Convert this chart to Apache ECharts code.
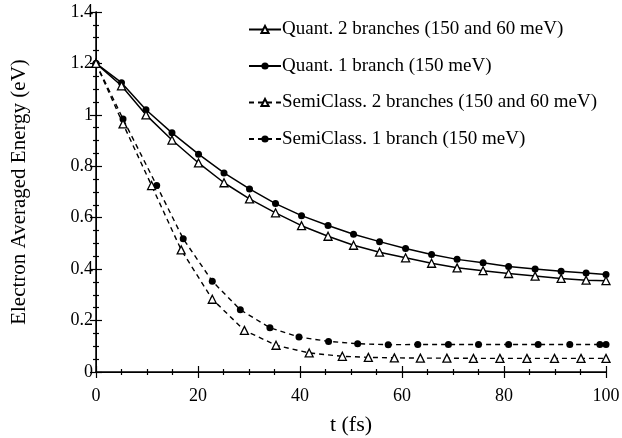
<!DOCTYPE html>
<html>
<head>
<meta charset="utf-8">
<script src="https://cdn.jsdelivr.net/npm/echarts@6/dist/echarts.min.js"></script>
<style>
  * { margin: 0; padding: 0; }
  body { background: #fff; }
  #chart { width: 622px; height: 438px; }
</style>
</head>
<body>
<div id="chart"></div>
<script>
// t (fs) and energy (eV)
var quant2T = [0, 5, 9.8, 14.9, 20.1, 25.1, 30.1, 35.2, 40.3, 45.5, 50.5, 55.6, 60.7, 65.8, 70.8, 75.9, 80.9, 86.1, 91.2, 96.1, 100];
var quant2E = [1.2, 1.113, 1.0, 0.902, 0.813, 0.736, 0.673, 0.619, 0.569, 0.528, 0.493, 0.466, 0.444, 0.423, 0.405, 0.394, 0.383, 0.373, 0.364, 0.357, 0.355];

var quant1T = quant2T;
var quant1E = [1.2, 1.125, 1.02, 0.93, 0.847, 0.774, 0.712, 0.655, 0.608, 0.57, 0.536, 0.507, 0.48, 0.457, 0.438, 0.425, 0.41, 0.401, 0.392, 0.385, 0.379];

var semi2T = [0, 5.3, 10.9, 16.7, 22.8, 29.1, 35.3, 41.8, 48.3, 53.4, 58.5, 63.6, 68.8, 74, 79.2, 84.5, 89.9, 95.1, 100];
var semi2E = [1.2, 0.965, 0.725, 0.475, 0.283, 0.162, 0.104, 0.074, 0.061, 0.057, 0.055, 0.054, 0.054, 0.053, 0.053, 0.053, 0.053, 0.053, 0.053];

var semi1T = [0, 5.3, 11.9, 17.1, 22.8, 28.3, 34.1, 39.8, 45.6, 51.3, 57.3, 63.1, 69.1, 75, 80.9, 86.7, 92.9, 98.8, 100];
var semi1E = [1.2, 0.984, 0.725, 0.518, 0.353, 0.242, 0.172, 0.136, 0.119, 0.11, 0.106, 0.107, 0.107, 0.107, 0.107, 0.107, 0.107, 0.107, 0.107];

var names = [
  'Quant. 2 branches (150 and 60 meV)',
  'Quant. 1 branch (150 meV)',
  'SemiClass. 2 branches (150 and 60 meV)',
  'SemiClass. 1 branch (150 meV)'
];

function pairs(t, e) {
  return t.map(function (v, i) { return [v, e[i]]; });
}

var serif = '"Liberation Serif", "DejaVu Serif", serif';

function mkSeries(name, t, e, tri, dashed) {
  return {
    name: name,
    type: 'line',
    data: pairs(t, e),
    symbol: tri ? 'triangle' : 'circle',
    symbolSize: tri ? 8 : 7,
    itemStyle: tri
      ? { color: '#fff', borderColor: '#000', borderWidth: 1.3 }
      : { color: '#000', borderColor: '#000', borderWidth: 0 },
    lineStyle: { color: '#000', width: dashed ? 1.4 : 1.5, type: dashed ? [5, 4] : 'solid' },
    animation: false,
    z: tri ? 3 : 2
  };
}

var tickStyle = { color: '#000', width: 1.2 };

var chart = echarts.init(document.getElementById('chart'));
chart.setOption({
  backgroundColor: '#fff',
  grid: { left: 96, right: 16, top: 12, bottom: 66, outerBoundsMode: 'none' },
  legend: {
    orient: 'vertical',
    left: 243,
    top: 15,
    itemGap: 17.5,
    itemWidth: 32,
    itemHeight: 9,
    textStyle: { fontFamily: serif, fontSize: 19, color: '#000', padding: [0, 0, 0, -4] },
    data: names
  },
  xAxis: [{
    type: 'value',
    min: 0, max: 100, interval: 20,
    name: 't (fs)',
    nameLocation: 'middle',
    nameGap: 42,
    nameTextStyle: { fontFamily: serif, fontSize: 22, color: '#000' },
    axisLine: { lineStyle: { color: '#000', width: 1.5 } },
    axisTick: { inside: true, length: 6, lineStyle: tickStyle },
    minorTick: { show: true, splitNumber: 4, length: 3, lineStyle: tickStyle },
    axisLabel: { fontFamily: serif, fontSize: 18, color: '#000', margin: 15 },
    splitLine: { show: false }
  }, {
    type: 'value', position: 'top',
    min: 0, max: 100, interval: 20,
    axisLine: { lineStyle: { color: '#000', width: 1 } },
    axisTick: { inside: true, length: 6, lineStyle: tickStyle },
    minorTick: { show: true, splitNumber: 4, length: 3, lineStyle: tickStyle },
    axisLabel: { show: false },
    splitLine: { show: false }
  }],
  yAxis: [{
    type: 'value',
    min: 0, max: 1.4, interval: 0.2,
    name: 'Electron Averaged Energy (eV)',
    nameLocation: 'middle',
    nameGap: 66,
    nameTextStyle: { fontFamily: serif, fontSize: 21, color: '#000' },
    axisLine: { show: true, lineStyle: { color: '#000', width: 1.5 } },
    axisTick: { inside: true, length: 6, lineStyle: tickStyle },
    minorTick: { show: true, splitNumber: 4, length: 3, lineStyle: tickStyle },
    axisLabel: { fontFamily: serif, fontSize: 18, color: '#000', margin: 3 },
    splitLine: { show: false }
  }, {
    type: 'value', position: 'right',
    min: 0, max: 1.4, interval: 0.2,
    axisLine: { show: true, lineStyle: { color: '#000', width: 1 } },
    axisTick: { inside: true, length: 6, lineStyle: tickStyle },
    minorTick: { show: true, splitNumber: 4, length: 3, lineStyle: tickStyle },
    axisLabel: { show: false },
    splitLine: { show: false }
  }],
  series: [
    mkSeries(names[0], quant2T, quant2E, true, false),
    mkSeries(names[1], quant1T, quant1E, false, false),
    mkSeries(names[2], semi2T, semi2E, true, true),
    mkSeries(names[3], semi1T, semi1E, false, true)
  ]
});
</script>
</body>
</html>
